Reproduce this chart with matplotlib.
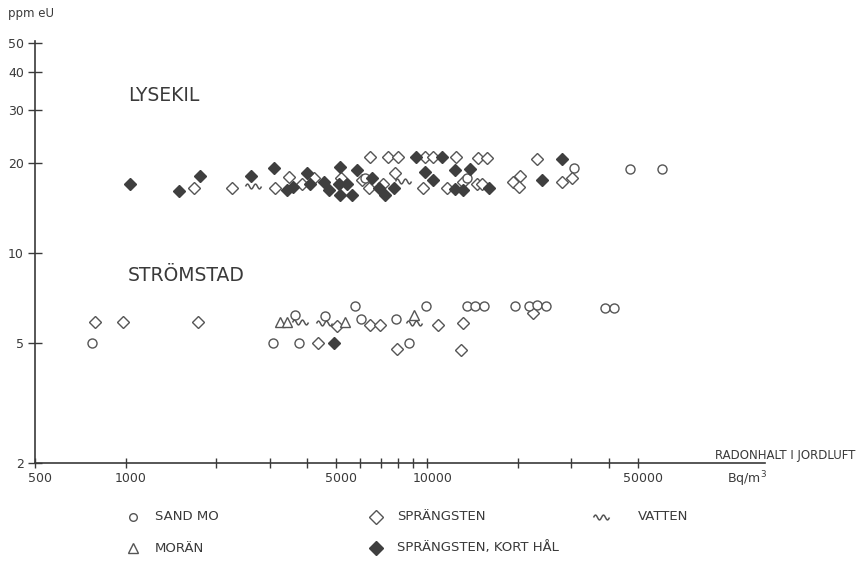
import numpy as np
import matplotlib
matplotlib.use("Agg")
import matplotlib.pyplot as plt
import matplotlib.transforms as mtransforms
from matplotlib.path import Path

# Radon in soil air (Bq/m3) against eU (ppm), Lysekil (upper band) and Strömstad (lower band)

# SAND MO (open circles)
sand_x = [6230, 13540, 30800, 47000, 60000,
          775, 3090, 3760, 3630, 4590, 5770, 6030, 7890, 8670, 9920,
          13540, 14430, 15460, 19590, 21680, 23120, 24770, 39000, 41700]
sand_y = [17.7, 17.7, 19.2, 19.1, 19.1,
          5.0, 5.0, 5.0, 6.2, 6.15, 6.66, 6.04, 6.0, 5.0, 6.66,
          6.66, 6.66, 6.66, 6.66, 6.66, 6.73, 6.66, 6.53, 6.53]

# MORÄN (open triangles)
moran_x = [3250, 3420, 5340, 9050]
moran_y = [5.87, 5.87, 5.87, 6.2]

# SPRÄNGSTEN (open diamonds)
spr_x = [1690, 2260, 3130, 3470, 3840, 4200, 5180, 6070, 6390, 6470,
         7160, 7440, 8030, 7830, 9850, 10490, 9660, 12450, 11620, 13190,
         14620, 14700, 15780, 15180, 19330, 20350, 20090, 23120, 28000, 30200,
         790, 980, 1730, 4330, 5015, 6470, 6950, 7970, 10900, 13130, 22420, 12940]
spr_y = [16.5, 16.4, 16.4, 17.9, 17.0, 17.8, 17.7, 17.5, 16.4, 20.9,
         17.0, 20.9, 20.9, 18.4, 20.8, 20.8, 16.4, 20.9, 16.5, 17.2,
         17.0, 20.7, 20.7, 16.9, 17.2, 18.0, 16.6, 20.6, 17.2, 17.7,
         5.89, 5.89, 5.87, 5.0, 5.70, 5.74, 5.74, 4.77, 5.74, 5.82, 6.31, 4.74]

# SPRÄNGSTEN, KORT HÅL (filled diamonds)
kort_x = [1030, 1500, 1760, 2600, 3110, 3420, 3600, 3990, 4090, 4530,
          4710, 5120, 5080, 5140, 5420, 5630, 5840, 6560, 6900, 7250,
          7750, 9150, 9850, 10490, 11190, 12380, 12380, 13190, 13890, 16040,
          24020, 27990, 4890]
kort_y = [17.0, 16.1, 18.0, 18.0, 19.2, 16.2, 16.6, 18.4, 16.9, 17.2,
          16.2, 19.3, 17.0, 15.6, 16.9, 15.6, 18.9, 17.7, 16.4, 15.6,
          16.4, 20.8, 18.6, 17.5, 20.8, 18.9, 16.3, 16.2, 19.0, 16.5,
          17.5, 20.6, 5.0]

# VATTEN (wave symbol)
vatten_x = [2650, 8340, 3790, 4530, 9050]
vatten_y = [16.7, 17.3, 5.87, 5.82, 5.82]

x_ticks = [500, 1000, 2000, 3000, 4000, 5000, 6000, 7000, 8000, 9000,
           10000, 20000, 30000, 40000, 50000]
x_labels = ["500", "1000", "", "", "", "5000", "", "", "", "", "10000", "", "", "", "50000"]
y_ticks = [2, 5, 10, 20, 30, 40, 50]
y_labels = ["2", "5", "10", "20", "30", "40", "50"]

INK = "#3a3a3a"
MARK = "#555555"
FILL = "#3f3f3f"

# wave-shaped marker
t = np.linspace(0, 1, 80)
wave = Path(np.column_stack([2 * t - 1, 0.3 * np.sin(2 * np.pi * 2.0 * t)]))

fig = plt.figure(figsize=(8.57, 5.84), dpi=100)
fig.patch.set_facecolor("white")
ax = fig.add_axes([35 / 857, 1 - 462.7 / 584, (765 - 35) / 857, (462.7 - 40.5) / 584])
ax.set_xscale("log")
ax.set_yscale("log")
ax.set_xlim(500, 132000)
ax.set_ylim(2, 51)

for s in ("top", "right"):
    ax.spines[s].set_visible(False)
for s in ("left", "bottom"):
    ax.spines[s].set_color(INK)
    ax.spines[s].set_linewidth(1.2)

ax.xaxis.set_minor_locator(plt.NullLocator())
ax.yaxis.set_minor_locator(plt.NullLocator())
ax.set_xticks(x_ticks)
ax.set_xticklabels(x_labels)
ax.set_yticks(y_ticks)
ax.set_yticklabels(y_labels)
ax.tick_params(axis="x", direction="inout", length=7, width=1, color=INK,
               labelsize=9, labelcolor=INK, pad=3)
ax.tick_params(axis="y", direction="inout", length=10, width=1, color=INK,
               labelsize=9, labelcolor=INK, pad=3)
shift = mtransforms.ScaledTranslation(5 / 100, 0, fig.dpi_scale_trans)
for lab in ax.get_xticklabels():
    lab.set_transform(lab.get_transform() + shift)

ax.plot(spr_x, spr_y, ls="none", marker="D", ms=6, mfc="white", mec=MARK, mew=1.0, zorder=3)
ax.plot(sand_x, sand_y, ls="none", marker="o", ms=6.5, mfc="white", mec=MARK, mew=1.0, zorder=3)
ax.plot(moran_x, moran_y, ls="none", marker="^", ms=6.5, mfc="white", mec=MARK, mew=1.0, zorder=3)
ax.plot(vatten_x, vatten_y, ls="none", marker=wave, ms=11.5, mfc="none", mec=MARK, mew=1.1, zorder=3)
ax.plot(kort_x, kort_y, ls="none", marker="D", ms=6, mfc=FILL, mec=FILL, mew=1.0, zorder=4)

ax.text(1018, 33.5, "LYSEKIL", fontsize=13.5, color=INK, ha="left", va="center")
ax.text(1018, 8.43, "STRÖMSTAD", fontsize=13.5, color=INK, ha="left", va="center")

fig.text(8 / 857, 1 - 13 / 584, "ppm eU", fontsize=8.5, color=INK, ha="left", va="center")
fig.text(855 / 857, 1 - 455 / 584, "RADONHALT I JORDLUFT", fontsize=8.5, color=INK,
         ha="right", va="center")
fig.text(727 / 857, 1 - 479 / 584, "Bq/m$^3$", fontsize=9, color=INK, ha="left", va="center")

# key below the plot
leg = fig.add_axes([0, 0, 1, 1], facecolor="none")
leg.set_xlim(0, 857)
leg.set_ylim(584, 0)
leg.axis("off")
rows = [517, 548]
leg.plot([133], [rows[0]], marker="o", ms=5.5, mfc="white", mec=MARK, mew=1.0)
leg.plot([133], [rows[1]], marker="^", ms=7, mfc="white", mec=MARK, mew=1.0)
leg.plot([376], [rows[0]], marker="D", ms=7, mfc="white", mec=MARK, mew=1.0)
leg.plot([376], [rows[1]], marker="D", ms=7, mfc=FILL, mec=FILL, mew=1.0)
leg.plot([601], [rows[0]], marker=wave, ms=11.5, mfc="none", mec=MARK, mew=1.1)
kw = dict(fontsize=9.5, color=INK, ha="left", va="center")
leg.text(155, rows[0], "SAND MO", **kw)
leg.text(155, rows[1], "MORÄN", **kw)
leg.text(397, rows[0], "SPRÄNGSTEN", **kw)
leg.text(397, rows[1], "SPRÄNGSTEN, KORT HÅL", **kw)
leg.text(638, rows[0], "VATTEN", **kw)

fig.savefig("out.png", dpi=100, facecolor="white")
